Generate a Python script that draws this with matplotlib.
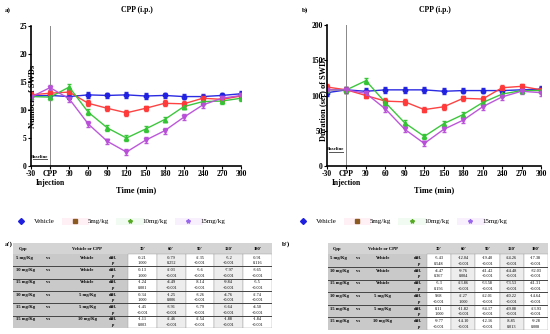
import numpy as np
import matplotlib
matplotlib.use('Agg')
import matplotlib.pyplot as plt
from matplotlib.lines import Line2D
from matplotlib.patches import Rectangle

plt.rcParams['font.family'] = ['Liberation Serif', 'DejaVu Serif']

# time points (min), 0 = CPP injection
t = [-30, 0, 30, 60, 90, 120, 150, 180, 210, 240, 270, 300]
xtick_labels = ['-30', 'CPP\nInjection', '30', '60', '90', '120', '150', '180', '210', '240', '270', '300']
groups = ['Vehicle', '5mg/kg', '10mg/kg', '15mg/kg']

# a) number of SWDs
num_vehicle = [12.5, 12.6, 12.4, 12.7, 12.6, 12.7, 12.5, 12.6, 12.4, 12.4, 12.6, 12.9]
num_5 = [12.7, 13.0, 13.2, 11.2, 10.3, 9.5, 10.3, 11.2, 11.1, 12.1, 11.9, 12.5]
num_10 = [12.4, 12.3, 14.1, 9.6, 6.8, 5.0, 6.6, 8.3, 10.6, 11.5, 11.6, 12.1]
num_15 = [12.3, 14.0, 12.0, 7.5, 4.4, 2.5, 4.6, 6.3, 8.7, 10.9, 12.1, 12.6]
num_err = [0.5, 0.5, 0.5, 0.5, 0.5, 0.5, 0.5, 0.5, 0.5, 0.5, 0.5, 0.5]

# b) duration of SWDs
dur_vehicle = [104, 108, 106, 108, 108, 108, 106, 107, 107, 107, 108, 109]
dur_5 = [112, 108, 100, 92, 91, 80, 84, 96, 95, 111, 113, 108]
dur_10 = [108, 108, 121, 90, 61, 42, 60, 73, 90, 102, 107, 107]
dur_15 = [108, 108, 103, 81, 52, 32, 52, 65, 84, 98, 106, 104]
dur_err = [4, 4, 4, 4, 4, 4, 4, 4, 4, 4, 4, 4]

colors = ['#1f1fe0', '#ff3838', '#33c433', '#b94fd8']
markers = ['o', 's', '^', 'v']
legend_markers = ['D', 's', '*', '*']
legend_colors = ['#1f1fe0', '#8a5a20', '#55aa22', '#9966ee']
legend_bands = ['#ffffff', '#fff0f5', '#f2fbf2', '#f8f0fc']

# tables a') and b')
comparisons = ['5 mg/Kg', '10 mg/Kg', '15 mg/Kg', '10 mg/Kg', '15 mg/Kg', '15 mg/Kg']
versus = ['Vehicle', 'Vehicle', 'Vehicle', '5 mg/Kg', '5 mg/Kg', '10 mg/Kg']
time_cols = ["30'", "60'", "90'", "120'", "180'"]

diff_a = [['-0.21', '-0.79', '-2.35', '-5.2', '-0.91'],
          ['-0.13', '-2.03', '-5.6', '-7.97', '-3.65'],
          ['-1.24', '-4.49', '-8.14', '-9.84', '-5.5'],
          ['-0.34', '-1.25', '-3.26', '-4.76', '-2.74'],
          ['-1.45', '-3.91', '-5.79', '-6.64', '-4.50'],
          ['-1.11', '-2.46', '-2.54', '-1.88', '-1.84']]
p_a = [['1.000', '0.252', '<0.001', '<0.001', '0.116'],
       ['1.000', '<0.001', '<0.001', '<0.001', '<0.001'],
       ['0.001', '<0.001', '<0.001', '<0.001', '<0.001'],
       ['1.000', '0.006', '<0.001', '<0.001', '<0.001'],
       ['<0.001', '<0.001', '<0.001', '<0.001', '<0.001'],
       ['0.003', '<0.001', '<0.001', '<0.001', '<0.001']]
diff_b = [['-5.43', '-12.04', '-19.40', '-24.26', '-17.38'],
          ['-4.47', '-9.76', '-41.42', '-44.48', '-32.03'],
          ['-5.3', '-23.86', '-53.58', '-73.53', '-41.31'],
          ['9.68', '-2.27', '-22.01', '-40.22', '-14.64'],
          ['0.11', '-11.82', '-34.17', '-49.08', '-23.93'],
          ['-9.77', '-14.10', '-12.16', '-8.85', '-9.28']]
p_b = [['0.548', '<0.001', '<0.001', '<0.001', '<0.001'],
       ['0.367', '0.004', '<0.001', '<0.001', '<0.001'],
       ['0.156', '<0.001', '<0.001', '<0.001', '<0.001'],
       ['<0.001', '1.000', '<0.001', '<0.001', '<0.001'],
       ['1.000', '<0.001', '<0.001', '<0.001', '<0.001'],
       ['<0.001', '<0.001', '<0.001', '0.013', '0.008']]

W, H = 550, 334
fig = plt.figure(figsize=(5.5, 3.34), dpi=100)


def px(x0, y0, x1, y1):
    # pixel box -> figure fraction rect
    return [x0 / W, 1 - y1 / H, (x1 - x0) / W, (y1 - y0) / H]


def line_panel(rect, series, err, ymax, ystep, ylabel, label_x, label_y, base_y):
    ax = fig.add_axes(rect)
    for s, c, m in zip(series, colors, markers):
        ax.errorbar(t, s, yerr=err, color=c, marker=m, markersize=3.2, lw=1.0,
                    ecolor=c, elinewidth=0.6, capsize=1.2, alpha=0.95)
    ax.set_xlim(-30, 300)
    ax.set_ylim(0, ymax)
    ax.set_xticks(t)
    ax.set_xticklabels(xtick_labels)
    ax.set_yticks(np.arange(0, ymax + 1, ystep))
    ax.axvline(0, color='#888888', lw=0.7, ymax=1.0, clip_on=False)
    ax.plot([-27, -5], [base_y, base_y], color='#555555', lw=0.7)
    ax.text(-16, base_y * 1.08, 'Baseline', fontsize=3.5, fontweight='bold',
            ha='center', va='bottom')
    for sp in ['top', 'right']:
        ax.spines[sp].set_visible(False)
    for sp in ['left', 'bottom']:
        ax.spines[sp].set_linewidth(1.2)
    ax.tick_params(labelsize=5.5, width=0.8, length=2, pad=1)
    for lab in ax.get_xticklabels() + ax.get_yticklabels():
        lab.set_fontweight('bold')
    ax.set_xlabel('Time (min)', fontsize=6, fontweight='bold', labelpad=-1)
    ax.set_ylabel(ylabel, fontsize=6, fontweight='bold')
    ax.yaxis.set_label_coords(label_x, label_y)
    return ax


ax_a = line_panel(px(31, 26, 241, 166), [num_vehicle, num_5, num_10, num_15], num_err,
                  25, 5, 'Number of SWDs', 0.03, 0.5, 1.2)
ax_b = line_panel(px(327, 25, 541, 166), [dur_vehicle, dur_5, dur_10, dur_15], dur_err,
                  200, 50, 'Duration (sec) of SWDs', 0.0, 0.48, 20)

fig.text(137 / W, 1 - 10 / H, 'CPP (i.p.)', fontsize=5.5, fontweight='bold', ha='center', va='center')
fig.text(435 / W, 1 - 10 / H, 'CPP (i.p.)', fontsize=5.5, fontweight='bold', ha='center', va='center')
fig.text(5 / W, 1 - 10 / H, 'a)', fontsize=5, fontweight='bold', va='center')
fig.text(302 / W, 1 - 10 / H, 'b)', fontsize=5, fontweight='bold', va='center')
fig.text(5 / W, 1 - 244 / H, "a')", fontsize=5, fontweight='bold', va='center')
fig.text(282 / W, 1 - 244 / H, "b')", fontsize=5, fontweight='bold', va='center')

# legends
handles = [Line2D([], [], color=b, lw=5, marker=m, markersize=3, markerfacecolor=c,
                  markeredgecolor=c) for b, m, c in zip(legend_bands, legend_markers, legend_colors)]
for cx in [118, 400]:
    fig.legend(handles, groups, loc='center', bbox_to_anchor=(cx / W, 1 - 221 / H), ncol=4,
               frameon=False, fontsize=5, handlelength=3, handletextpad=0.3,
               columnspacing=1.5)


def draw_table(rect, diffs, ps, c_vs, c_vsname, c_diff, c_val, label_gray):
    ax = fig.add_axes(rect)
    ax.set_xlim(0, 1)
    nrow = len(comparisons)
    hh = 0.9  # header height in row units
    ax.set_ylim(nrow + hh, 0)
    ax.axis('off')
    ncol = len(time_cols)
    cw = (1 - c_val) / ncol
    ax.add_patch(Rectangle((0, 0), 1, hh, color='#d4d4d4', lw=0))
    ax.add_patch(Rectangle((0, hh), c_val, nrow, color=label_gray, lw=0))
    for j in range(ncol):
        fc = '#ededed' if j % 2 == 1 else 'white'
        ax.add_patch(Rectangle((c_val + j * cw, hh), cw, nrow, facecolor=fc,
                               edgecolor='#999999', lw=0.3))
        ax.text(c_val + (j + 0.5) * cw, hh / 2, time_cols[j], fontsize=3.3,
                fontweight='bold', ha='center', va='center')
    ax.text(0.04, hh / 2, 'Cpp', fontsize=3.3, fontweight='bold', ha='center', va='center')
    ax.text(c_vsname, hh / 2, 'Vehicle or CPP', fontsize=3.3, fontweight='bold',
            ha='center', va='center')
    for i in range(nrow):
        y0 = hh + i
        ax.text(0.01, y0 + 0.3, comparisons[i], fontsize=3.3, fontweight='bold', va='center')
        ax.text(c_vs, y0 + 0.3, 'vs', fontsize=3.3, fontweight='bold', ha='center', va='center')
        ax.text(c_vsname, y0 + 0.3, versus[i], fontsize=3.3, fontweight='bold',
                ha='center', va='center')
        ax.text(c_diff, y0 + 0.3, 'diff.', fontsize=3.3, fontweight='bold', ha='center', va='center')
        ax.text(c_diff, y0 + 0.75, 'p', fontsize=3.3, fontweight='bold', style='italic',
                ha='center', va='center')
        for j in range(ncol):
            xc = c_val + (j + 0.5) * cw
            ax.text(xc, y0 + 0.3, diffs[i][j], fontsize=3.1, ha='center', va='center')
            ax.text(xc, y0 + 0.75, ps[i][j], fontsize=3.1, ha='center', va='center')
        ax.plot([0, 1], [y0 + 1, y0 + 1], color='#444444', lw=0.7)
    return ax


draw_table(px(13, 243, 272, 328), diff_a, p_a, 0.135, 0.286, 0.386, 0.444, '#c9c9c9')
draw_table(px(328, 243, 548, 330), diff_b, p_b, 0.136, 0.25, 0.41, 0.45, '#c9c9c9')

fig.savefig('out.png', dpi=100)
